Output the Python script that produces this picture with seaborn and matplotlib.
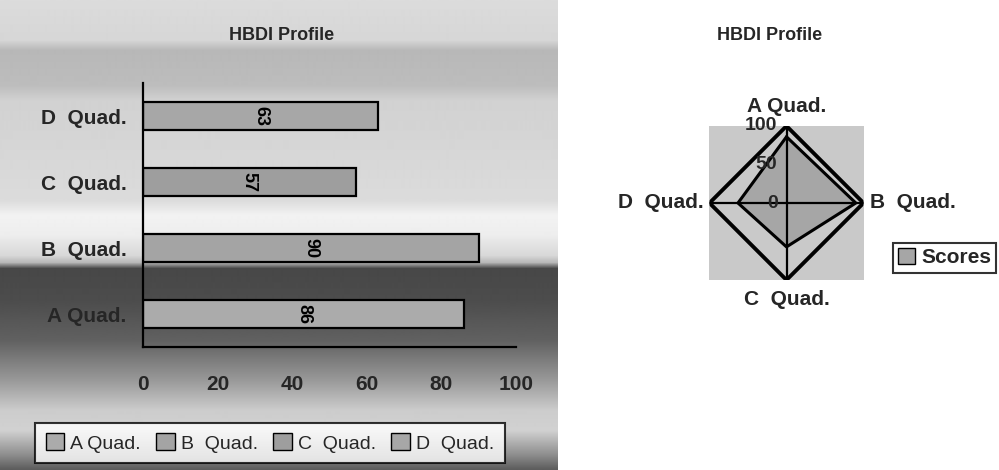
import numpy as np
import pandas as pd
import matplotlib
matplotlib.use("Agg")
import matplotlib.pyplot as plt
from matplotlib.patches import Patch
import seaborn as sns

# ---- data ----
quadrants = ["A Quad.", "B  Quad.", "C  Quad.", "D  Quad."]
scores = [86, 90, 57, 63]
bar_order = ["D  Quad.", "C  Quad.", "B  Quad.", "A Quad."]
x_ticks = [0, 20, 40, 60, 80, 100]
radar_ticks = [0, 50, 100]
chart_title = "HBDI Profile"
series_name = "Scores"

sns.set_theme(style="white")
plt.rcParams["font.family"] = ["Liberation Sans", "DejaVu Sans"]

W, H = 999, 470
fig = plt.figure(figsize=(W / 100, H / 100), dpi=100)


def rect(x0, y0, x1, y1):
    """Figure-fraction box from pixel edges (origin top-left)."""
    return [x0 / W, 1 - y1 / H, (x1 - x0) / W, (y1 - y0) / H]


# ---- shaded backdrop behind the bar panel ----
stops = [(0, 0.86), (40, 0.84), (50, 0.72), (85, 0.74), (100, 0.82),
         (200, 0.86), (215, 0.95), (235, 0.93), (255, 0.85), (262, 0.72),
         (268, 0.28), (300, 0.30), (340, 0.38), (380, 0.60), (410, 0.80),
         (430, 0.82), (455, 0.55), (470, 0.35)]
rows = np.arange(H)
shade = np.interp(rows, [s[0] for s in stops], [s[1] for s in stops])
bg = fig.add_axes(rect(0, 0, 558, 470), zorder=0)
bg.imshow(shade[:, None], cmap="gray", vmin=0, vmax=1, aspect="auto",
          interpolation="bilinear")
bg.set_axis_off()

# ---- horizontal bar chart ----
ax = fig.add_axes(rect(143, 83, 516, 347), zorder=1)
ax.patch.set_alpha(0)
df = pd.DataFrame({"quadrant": quadrants, "score": scores})
palette = dict(zip(quadrants, ["#ababab", "#a4a4a4", "#9e9e9e", "#a7a7a7"]))
sns.barplot(data=df, x="score", y="quadrant", hue="quadrant",
            order=bar_order, hue_order=quadrants, palette=palette,
            width=0.41, edgecolor="black", linewidth=1.6, saturation=1,
            legend=False, ax=ax)
for cont in ax.containers:
    ax.bar_label(cont, label_type="center", rotation=-90,
                 fontsize=13, fontweight="bold", color="black")
ax.set_xlim(0, 100)
ax.set_ylim(3.5, -0.5)
ax.set_xticks(x_ticks)
ax.set_xlabel("")
ax.set_ylabel("")
ax.tick_params(axis="x", direction="out", length=7, width=1.5,
               color="black", pad=13, labelsize=15)
ax.tick_params(axis="y", length=0, pad=12, labelsize=15)
for lab in ax.get_xticklabels() + ax.get_yticklabels():
    lab.set_fontweight("bold")
for side in ("top", "right"):
    ax.spines[side].set_visible(False)
for side in ("left", "bottom"):
    ax.spines[side].set_color("black")
    ax.spines[side].set_linewidth(1.6)

handles = [Patch(facecolor=palette[q], edgecolor="black", label=q)
           for q in quadrants]
leg = fig.legend(handles=handles, loc="center",
                 bbox_to_anchor=((33 + 507) / 2 / W, 1 - 443 / H),
                 ncol=4, frameon=True, fancybox=False, edgecolor="black",
                 fontsize=14, handlelength=0.95, handleheight=0.95,
                 handletextpad=0.3, columnspacing=0.8, borderpad=0.55,
                 borderaxespad=0)
leg.get_frame().set_linewidth(1.5)
leg.get_frame().set_facecolor("white")

fig.text(282 / W, 1 - 35 / H, chart_title, ha="center", va="center",
         fontsize=13, fontweight="bold")

# ---- radar chart ----
sq = fig.add_axes(rect(709, 126, 864, 280), zorder=1)
sq.set_facecolor("#c9c9c9")
sq.set_xticks([])
sq.set_yticks([])
for s in sq.spines.values():
    s.set_visible(False)

pax = fig.add_axes(rect(709, 126, 864, 280), projection="polar", zorder=2)
pax.set_facecolor("none")
pax.set_theta_zero_location("N")
pax.set_theta_direction(-1)
pax.grid(False)
pax.spines["polar"].set_visible(False)
pax.set_xticks([])
pax.set_yticks([])

theta = np.deg2rad(np.arange(len(quadrants)) * 360 / len(quadrants))
closed_t = np.append(theta, theta[0])
vals = np.append(scores, scores[0])
top = radar_ticks[-1]

pax.fill(closed_t, vals, color="#a6a6a6", zorder=1)
pax.plot(closed_t, np.full(len(closed_t), top), color="black", lw=2.8, zorder=3)
for t in theta:
    pax.plot([t, t], [0, top], color="black", lw=1.6, zorder=2)
pax.plot(closed_t, vals, color="black", lw=2.2, zorder=4)
pax.set_ylim(0, top)

offsets = [((0, 10), "center", "bottom"), ((6, 0), "left", "center"),
           ((0, -10), "center", "top"), ((-6, 0), "right", "center")]
for q, t, (off, ha, va) in zip(quadrants, theta, offsets):
    pax.annotate(q, xy=(t, top), xytext=off, textcoords="offset pixels",
                 ha=ha, va=va, fontsize=15, fontweight="bold",
                 annotation_clip=False)
for r in radar_ticks:
    pax.annotate(str(r), xy=(0, r), xytext=(-9, 0), textcoords="offset pixels",
                 ha="right", va="center", fontsize=14, fontweight="bold",
                 annotation_clip=False, zorder=5)

leg2 = fig.legend(handles=[Patch(facecolor="#a6a6a6", edgecolor="black",
                                 label=series_name)],
                  loc="upper left", bbox_to_anchor=(893 / W, 1 - 243 / H),
                  frameon=True, fancybox=False, edgecolor="black",
                  prop={"weight": "bold", "size": 15}, handlelength=0.8,
                  handleheight=0.8, handletextpad=0.3, borderpad=0.25,
                  borderaxespad=0)
leg2.get_frame().set_linewidth(1.5)

fig.text(770 / W, 1 - 35 / H, chart_title, ha="center", va="center",
         fontsize=13, fontweight="bold")

fig.savefig("out.png", dpi=100)
